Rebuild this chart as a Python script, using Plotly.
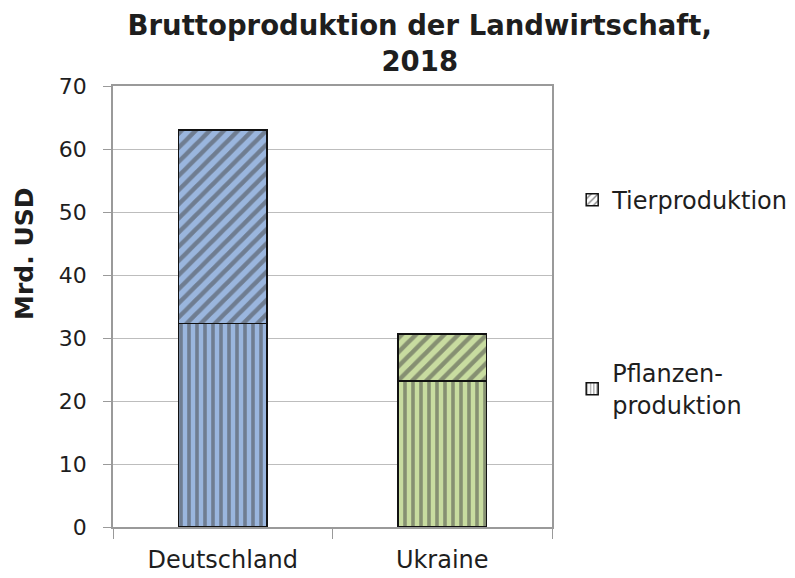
import plotly.graph_objects as go

# ---- data ----
laender = ["Deutschland", "Ukraine"]
pflanzen = [32.3, 23.2]
tier = [30.7, 7.4]
y_ticks = [0, 10, 20, 30, 40, 50, 60, 70]

title_text = "Bruttoproduktion der Landwirtschaft,<br>2018"
y_title = "Mrd. USD"
name_tier = "Tierproduktion"
name_pflanzen = "Pflanzen-<br>produktion"

# ---- styles ----
bg_colors = ["#9ab6de", "#c8dca0"]
fg_colors = ["#1a2840", "#2e3c16"]
FONT = "DejaVu Sans"
TXT = "#1e1e1e"

fig = go.Figure()

fig.add_trace(go.Bar(
    x=laender, y=pflanzen, name=name_pflanzen, showlegend=False,
    marker=dict(color=bg_colors, line=dict(color="#111111", width=1.5),
                pattern=dict(shape="|", size=8, solidity=0.45,
                             fgcolor=fg_colors, fillmode="overlay")),
    hoverinfo="skip",
))
fig.add_trace(go.Bar(
    x=laender, y=tier, name=name_tier, showlegend=False,
    marker=dict(color=bg_colors, line=dict(color="#111111", width=1.5),
                pattern=dict(shape="/", size=10, solidity=0.45,
                             fgcolor=fg_colors, fillmode="overlay")),
    hoverinfo="skip",
))

# legend-only entries (white swatches with black hatch, as in the reference)
fig.add_trace(go.Bar(
    x=[laender[0]], y=[None], name=name_tier, legend="legend",
    marker=dict(color="white", line=dict(color="#111111", width=1.5),
                pattern=dict(shape="/", size=6, solidity=0.3, fgcolor="#111111", fillmode="overlay")),
))
fig.add_trace(go.Bar(
    x=[laender[0]], y=[None], name=name_pflanzen, legend="legend2",
    marker=dict(color="white", line=dict(color="#111111", width=1.5),
                pattern=dict(shape="|", size=4, solidity=0.3, fgcolor="#111111", fillmode="overlay")),
))

fig.update_layout(
    width=795, height=578,
    barmode="stack", bargap=0.595,
    paper_bgcolor="white", plot_bgcolor="white",
    margin=dict(l=113, r=243, t=86, b=51, autoexpand=False),
    font=dict(family=FONT, color=TXT, size=22),
    title=dict(text=title_text, xref="container", x=0.528, xanchor="center",
               yref="container", y=0.939, yanchor="middle",
               font=dict(family=FONT, size=27.5, color=TXT, weight="bold")),
    legend=dict(x=1.046, xanchor="left", y=0.741, yanchor="middle",
                font=dict(size=24, family=FONT, color=TXT), bgcolor="rgba(0,0,0,0)"),
    legend2=dict(x=1.046, xanchor="left", y=0.313, yanchor="middle",
                 font=dict(size=24, family=FONT, color=TXT), bgcolor="rgba(0,0,0,0)"),
    annotations=[dict(text="<b>" + y_title + "</b>", xref="paper", yref="paper",
                      x=-0.203, y=0.619, xanchor="center", yanchor="middle",
                      textangle=-90, showarrow=False,
                      font=dict(size=25, family=FONT, color=TXT))],
)

fig.update_yaxes(range=[0, 70], tickvals=y_ticks, showgrid=True, gridcolor="#bdbdbd", gridwidth=1.2,
                 showline=True, linecolor="#9a9a9a", linewidth=1.5, mirror=True,
                 ticks="outside", ticklen=8, tickcolor="#9a9a9a", automargin=False,
                 ticklabelstandoff=12, tickfont=dict(size=22), zeroline=False)
fig.update_xaxes(type="category", showline=True, linecolor="#9a9a9a", linewidth=1.5, mirror=True,
                 ticks="outside", tickson="boundaries", ticklen=10, tickcolor="#9a9a9a",
                 automargin=False, ticklabelstandoff=10,
                 tickfont=dict(size=24), showgrid=False)

fig.write_html("out.html", config={"displayModeBar": False},
               post_script="document.body.style.margin='0';document.body.style.overflow='hidden';")
